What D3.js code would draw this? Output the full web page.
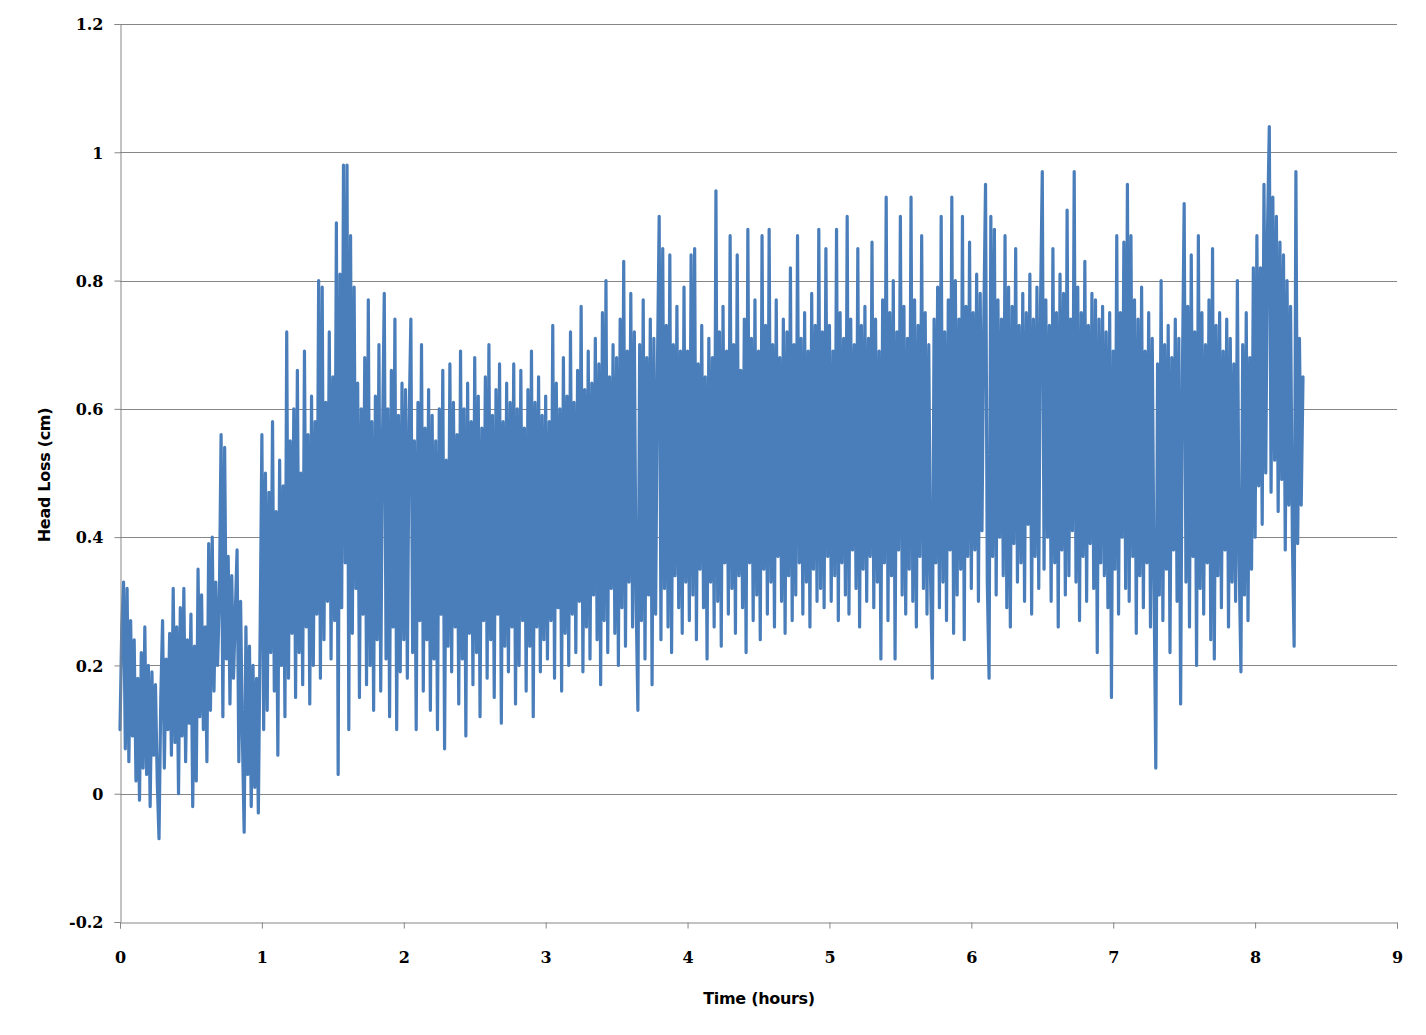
<!DOCTYPE html>
<html>
<head>
<meta charset="utf-8">
<script src="https://cdn.jsdelivr.net/npm/d3@7"></script>
<style>
  html, body { margin: 0; padding: 0; background: #ffffff; }
  svg { display: block; }
</style>
</head>
<body>
<svg id="chart" width="1426" height="1035"></svg>
<script>
// ---- data ----
const xTickLabels = ["0","1","2","3","4","5","6","7","8","9"];
const yTickLabels = ["-0.2","0","0.2","0.4","0.6","0.8","1","1.2"];
const xTickValues = [0,1,2,3,4,5,6,7,8,9];
const yTickValues = [-0.2,0,0.2,0.4,0.6,0.8,1.0,1.2];
const sampleStartHours = 0;
const sampleStepHours = 0.0125;
// head loss (cm), one reading every sampleStepHours
const headLoss = [
 0.10,0.26,0.33,0.07,0.32,0.05,0.27,0.09,0.24,0.02,0.18,-0.01,0.22,0.04,0.26,0.03,0.20,-0.02,0.19,0.06,
 0.17,0.02,-0.07,0.15,0.27,0.04,0.21,0.10,0.25,0.06,0.32,0.08,0.26,0.00,0.29,0.09,0.32,0.05,0.24,0.11,
 0.28,-0.02,0.23,0.02,0.35,0.12,0.31,0.10,0.26,0.05,0.39,0.13,0.40,0.16,0.33,0.20,0.30,0.56,0.12,0.54,
 0.21,0.37,0.14,0.34,0.18,0.28,0.38,0.05,0.30,0.09,-0.06,0.26,0.03,0.23,-0.02,0.20,0.01,0.18,-0.03,0.25,
 0.56,0.10,0.50,0.13,0.47,0.22,0.58,0.16,0.44,0.06,0.52,0.20,0.48,0.12,0.72,0.18,0.55,0.25,0.60,0.15,
 0.66,0.22,0.50,0.17,0.69,0.26,0.56,0.14,0.62,0.20,0.58,0.28,0.80,0.18,0.79,0.24,0.61,0.30,0.72,0.21,
 0.65,0.27,0.89,0.03,0.81,0.29,0.98,0.36,0.98,0.10,0.87,0.25,0.79,0.32,0.64,0.15,0.60,0.28,0.68,0.17,
 0.77,0.20,0.58,0.13,0.62,0.24,0.70,0.16,0.55,0.78,0.21,0.60,0.12,0.66,0.26,0.74,0.10,0.59,0.19,0.64,
 0.24,0.63,0.18,0.58,0.74,0.22,0.55,0.10,0.61,0.27,0.70,0.16,0.57,0.24,0.63,0.13,0.59,0.21,0.55,0.10,
 0.60,0.28,0.66,0.07,0.52,0.23,0.67,0.19,0.61,0.26,0.56,0.14,0.69,0.21,0.60,0.09,0.64,0.25,0.58,0.17,
 0.68,0.22,0.62,0.12,0.57,0.27,0.65,0.18,0.70,0.24,0.59,0.15,0.63,0.28,0.67,0.11,0.58,0.23,0.64,0.19,
 0.61,0.26,0.67,0.14,0.60,0.20,0.66,0.27,0.57,0.16,0.63,0.23,0.69,0.12,0.61,0.26,0.65,0.19,0.59,0.24,
 0.62,0.21,0.58,0.27,0.73,0.18,0.64,0.29,0.60,0.16,0.68,0.25,0.62,0.20,0.72,0.28,0.61,0.22,0.66,0.30,
 0.76,0.19,0.63,0.26,0.69,0.21,0.64,0.31,0.71,0.24,0.67,0.17,0.75,0.27,0.80,0.22,0.65,0.32,0.70,0.25,
 0.68,0.20,0.74,0.29,0.83,0.23,0.69,0.33,0.78,0.26,0.72,0.30,0.13,0.70,0.27,0.77,0.21,0.68,0.31,0.74,
 0.17,0.71,0.28,0.66,0.90,0.24,0.85,0.32,0.73,0.26,0.84,0.22,0.70,0.34,0.76,0.29,0.69,0.25,0.79,0.33,
 0.69,0.27,0.84,0.31,0.85,0.24,0.67,0.35,0.73,0.29,0.65,0.21,0.71,0.33,0.68,0.26,0.94,0.30,0.72,0.23,
 0.76,0.36,0.69,0.28,0.87,0.32,0.70,0.25,0.84,0.34,0.66,0.29,0.74,0.22,0.88,0.36,0.71,0.27,0.77,0.31,
 0.69,0.24,0.87,0.35,0.73,0.28,0.88,0.33,0.70,0.26,0.77,0.37,0.68,0.30,0.74,0.25,0.72,0.34,0.82,0.27,
 0.70,0.31,0.87,0.36,0.71,0.28,0.75,0.33,0.69,0.26,0.78,0.35,0.73,0.30,0.88,0.32,0.72,0.29,0.85,0.37,
 0.73,0.30,0.69,0.34,0.88,0.27,0.75,0.36,0.71,0.31,0.90,0.28,0.74,0.38,0.70,0.32,0.85,0.26,0.73,0.35,
 0.76,0.30,0.71,0.37,0.86,0.29,0.74,0.33,0.69,0.21,0.77,0.36,0.93,0.27,0.75,0.34,0.80,0.21,0.72,0.38,
 0.90,0.31,0.76,0.28,0.71,0.35,0.93,0.30,0.77,0.26,0.73,0.37,0.87,0.32,0.75,0.28,0.70,0.34,0.18,0.74,
 0.36,0.79,0.29,0.90,0.33,0.72,0.27,0.77,0.38,0.93,0.25,0.80,0.31,0.74,0.35,0.90,0.24,0.76,0.37,0.86,
 0.32,0.75,0.38,0.81,0.30,0.78,0.41,0.73,0.95,0.33,0.18,0.90,0.37,0.88,0.31,0.77,0.40,0.74,0.34,0.87,
 0.29,0.79,0.26,0.76,0.39,0.85,0.33,0.73,0.36,0.78,0.30,0.75,0.42,0.81,0.28,0.74,0.37,0.79,0.32,0.76,
 0.97,0.35,0.77,0.40,0.73,0.30,0.85,0.36,0.75,0.26,0.81,0.38,0.78,0.31,0.91,0.34,0.74,0.41,0.97,0.33,
 0.79,0.27,0.75,0.37,0.83,0.30,0.73,0.39,0.78,0.32,0.77,0.22,0.74,0.36,0.76,0.34,0.72,0.29,0.75,0.15,
 0.69,0.35,0.87,0.28,0.75,0.40,0.86,0.32,0.95,0.30,0.87,0.37,0.77,0.25,0.74,0.34,0.79,0.29,0.69,0.36,
 0.75,0.26,0.71,0.33,0.04,0.67,0.31,0.80,0.27,0.70,0.35,0.73,0.22,0.68,0.38,0.74,0.30,0.71,0.14,0.65,
 0.92,0.33,0.76,0.26,0.84,0.37,0.72,0.20,0.87,0.32,0.75,0.28,0.70,0.36,0.77,0.24,0.85,0.21,0.73,0.34,
 0.75,0.29,0.69,0.38,0.74,0.26,0.71,0.33,0.67,0.30,0.80,0.36,0.19,0.70,0.31,0.75,0.27,0.68,0.35,0.82,
 0.40,0.87,0.48,0.82,0.42,0.95,0.50,0.88,1.04,0.47,0.93,0.52,0.90,0.44,0.86,0.49,0.84,0.38,0.80,0.45,
 0.76,0.40,0.23,0.97,0.39,0.71,0.45,0.65
];

// ---- layout ----
const svg = d3.select("#chart");
const margin = { left: 120, right: 29, top: 24, bottom: 113 };
const W = 1426, H = 1035;
const x = d3.scaleLinear().domain([0, 9]).range([margin.left, W - margin.right]);
const y = d3.scaleLinear().domain([-0.2, 1.2]).range([H - margin.bottom, margin.top]);

const gridColor = "#868686";

// gridlines
svg.append("g")
  .selectAll("line")
  .data(yTickValues.filter(v => v > -0.2))
  .join("line")
  .attr("x1", x(0)).attr("x2", x(9))
  .attr("y1", d => Math.round(y(d)) + 0.5).attr("y2", d => Math.round(y(d)) + 0.5)
  .attr("stroke", gridColor).attr("stroke-width", 1);

// series
const points = headLoss.map((v, i) => [sampleStartHours + i * sampleStepHours, v]);
const line = d3.line().x(d => x(d[0])).y(d => y(d[1]));
svg.append("path")
  .datum(points)
  .attr("d", line)
  .attr("fill", "none")
  .attr("stroke", "#4A7EBB")
  .attr("stroke-width", 3.2)
  .attr("stroke-linejoin", "round")
  .attr("stroke-linecap", "round");

// axes
const yAxis = d3.axisLeft(y)
  .tickValues(yTickValues)
  .tickFormat((d, i) => yTickLabels[i])
  .tickSize(6).tickPadding(11);
const xAxis = d3.axisBottom(x)
  .tickValues(xTickValues)
  .tickFormat((d, i) => xTickLabels[i])
  .tickSize(6).tickPadding(26);

const gy = svg.append("g").attr("transform", `translate(${margin.left + 0.5},0)`).call(yAxis);
const gx = svg.append("g").attr("transform", `translate(0,${Math.round(y(-0.2)) + 0.5})`).call(xAxis);

[gx, gy].forEach(g => {
  g.selectAll(".domain").attr("stroke", gridColor);
  g.selectAll(".tick line").attr("stroke", gridColor);
  g.selectAll("text")
    .attr("fill", "#000")
    .style("font-family", "'DejaVu Serif', serif")
    .style("font-weight", "bold")
    .style("font-size", "16px");
});
gy.selectAll(".tick text").attr("dy", "0.36em");
gx.selectAll(".tick text").attr("dy", "0.5em");

// titles
svg.append("text")
  .attr("x", 759).attr("y", 1004)
  .attr("text-anchor", "middle")
  .style("font-family", "'DejaVu Sans', sans-serif")
  .style("font-weight", "bold")
  .style("font-size", "16px")
  .style("letter-spacing", "-0.3px")
  .text("Time (hours)");

svg.append("text")
  .attr("transform", "translate(50,475) rotate(-90)")
  .attr("text-anchor", "middle")
  .style("font-family", "'DejaVu Sans', sans-serif")
  .style("font-weight", "bold")
  .style("font-size", "16px")
  .style("letter-spacing", "-0.3px")
  .text("Head Loss (cm)");
</script>
</body>
</html>
